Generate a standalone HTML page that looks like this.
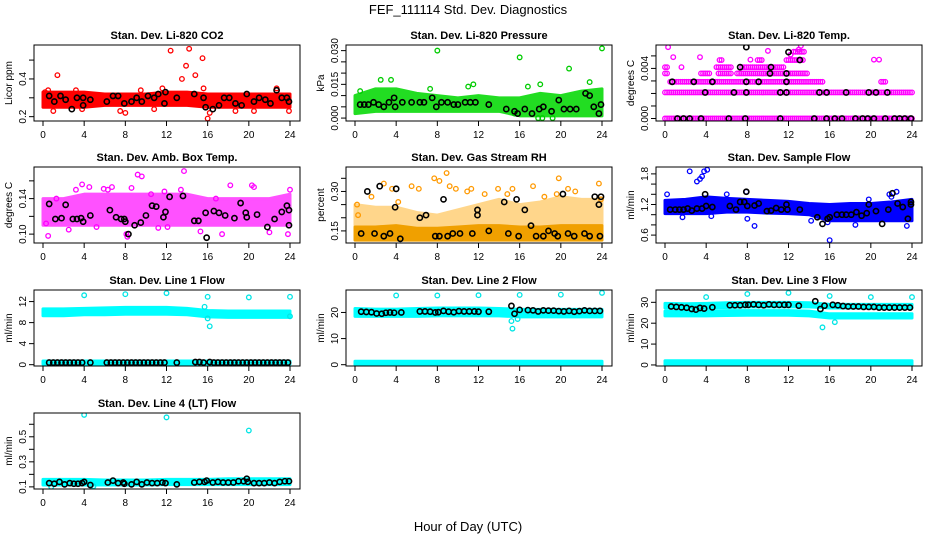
<!DOCTYPE html>
<html><head><meta charset="utf-8">
<style>
html,body{margin:0;padding:0;background:#fff;}
svg{display:block;font-family:"Liberation Sans",Arial,sans-serif;}
</style></head>
<body>
<svg id="chart" width="936" height="540" viewBox="0 0 936 540">
<rect x="0" y="0" width="936" height="540" fill="#fff"/>
<text x="468" y="14" text-anchor="middle" font-size="13">FEF_111114  Std. Dev. Diagnostics</text>
<text x="468" y="531" text-anchor="middle" font-size="13">Hour of Day (UTC)</text>
</svg>
<script>
// ---------- data ----------
const bandHours = [0,2,4,6,8,10,12,14,16,18,20,22,24];

const co2Lo = [0.25,0.25,0.25,0.26,0.26,0.26,0.26,0.26,0.25,0.25,0.25,0.25,0.25];
const co2Hi = [0.33,0.33,0.33,0.32,0.32,0.32,0.33,0.33,0.32,0.32,0.32,0.32,0.32];
const co2PtX = [0.2,0.5,1.0,1.4,3.2,3.8,7.5,8,9.5,10.8,11.6,12.4,13.5,13.9,14.2,14.8,15.5,15.6,16,16.2,18.7,20.5,22.7,23.9];
const co2PtY = [0.33,0.34,0.23,0.42,0.34,0.24,0.23,0.22,0.34,0.24,0.35,0.55,0.40,0.47,0.56,0.42,0.51,0.35,0.19,0.22,0.23,0.23,0.35,0.23];
const co2BkX = [0.6,1.1,1.7,2.2,2.8,3.3,3.9,3.9,4.6,6.2,6.8,7.3,7.9,8.6,9.1,9.6,10.2,10.8,11.2,11.9,11.8,13.0,14.7,15.6,15.8,16.5,17.1,17.6,18.1,18.7,19.3,19.8,20.5,21.0,21.6,22.1,22.7,23.2,23.7,23.9];
const co2BkY = [0.31,0.28,0.31,0.29,0.24,0.30,0.30,0.26,0.29,0.28,0.31,0.31,0.27,0.28,0.30,0.28,0.31,0.30,0.32,0.33,0.27,0.30,0.32,0.30,0.25,0.24,0.26,0.30,0.30,0.27,0.26,0.32,0.28,0.30,0.29,0.27,0.34,0.30,0.30,0.28];

const prLo = [0.002,0.003,0.003,0.003,0.003,0.003,0.003,0.003,0.001,0.001,0.001,0.001,0.001];
const prHi = [0.010,0.013,0.013,0.011,0.010,0.009,0.010,0.009,0.009,0.011,0.010,0.012,0.013];
const prPtX = [2.5,3.5,8,11,11.5,15.5,16,16.8,17.8,18,18.2,19.2,20.8,24,0.5,7.3,22.8];
const prPtY = [0.017,0.017,0.030,0.014,0.015,0.002,0.027,0.014,0.0,0.015,0.0,0.0,0.022,0.031,0.012,0.013,0.016];
const prBkX = [0.5,0.9,1.3,1.8,2.3,2.8,3.3,3.8,3.9,4.6,5.5,6.3,6.7,7.5,7.9,8.4,9.0,9.6,10.0,10.7,11.2,11.7,13.0,14.7,15.5,15.8,16.5,17.2,17.9,18.3,19.1,19.8,20.3,20.9,21.5,22.4,22.8,23.2,23.7,23.9];
const prBkY = [0.006,0.006,0.006,0.007,0.006,0.005,0.007,0.009,0.005,0.007,0.007,0.007,0.007,0.009,0.005,0.007,0.007,0.006,0.006,0.007,0.007,0.007,0.006,0.004,0.003,0.002,0.004,0.002,0.004,0.005,0.003,0.008,0.004,0.004,0.004,0.011,0.010,0.005,0.002,0.006];

const tmpSegStart = [0,0,0.5,21,7,5.2,3.5,0,5,7.5,0,5.3,9,11.8,12.5];
const tmpSegEnd   = [24,24,15.3,21.5,13.8,6.5,4.3,0.2,6.5,11.5,0.2,5.6,9.5,13.5,13.5];
const tmpSegLevel = [0,0.00208,0.00293,0.00293,0.0036,0.0036,0.0036,0.0036,0.0041,0.0041,0.0041,0.00467,0.00467,0.00467,0.00533];
const tmpPtX = [0.3,0.8,3.4,1.6,8.3,10,13.2,20.3,20.8,13.0,12.2];
const tmpPtY = [0.0057,0.0049,0.0049,0.0041,0.0047,0.0054,0.0058,0.0047,0.0047,0.0055,0.0051];
const tmpBkX = [1.2,1.8,2.4,3.5,6.2,7.8,11.2,14.5,15.7,16.5,17.2,18.5,19.2,19.7,20.3,21.4,22.3,22.8,23.3,23.9,3.9,6.7,7.9,11.2,11.8,15,15.7,17.6,19.8,21.6,20.5,0.7,2.8,4.6,7.9,9.1,11.8,10.2,11.8,7.3,10.3,13.1,7.9,12.0];
const tmpBkY = [0,0,0,0,0,0,0,0,0,0,0,0,0,0,0,0,0,0,0,0,0.00208,0.00208,0.00208,0.00208,0.00208,0.00208,0.00208,0.00208,0.00208,0.00208,0.00208,0.00293,0.00293,0.00293,0.00293,0.00293,0.00293,0.0036,0.0036,0.0041,0.0041,0.00467,0.0057,0.0053];

const ambLo = [0.11,0.11,0.11,0.11,0.11,0.11,0.11,0.11,0.11,0.11,0.11,0.11,0.11];
const ambHi = [0.14,0.14,0.145,0.145,0.145,0.145,0.145,0.145,0.14,0.14,0.14,0.14,0.145];
const ambPtX = [0.3,0.5,1.3,3.2,3.8,4.5,5.2,6.3,6.7,8.2,8.1,8.6,9.2,9.6,10.5,11.2,11.8,13.7,13.4,16.8,17.4,20.3,20.5,22.0,23.8,24.0,2.5,5.9,15.3,18.2,12.1];
const ambPtY = [0.112,0.098,0.140,0.150,0.156,0.153,0.108,0.150,0.153,0.097,0.100,0.152,0.167,0.165,0.145,0.107,0.148,0.171,0.150,0.140,0.100,0.155,0.153,0.102,0.100,0.150,0.105,0.151,0.103,0.155,0.108];
const ambBkX = [0.6,1.2,1.8,2.2,2.9,3.3,3.7,3.9,4.6,6.5,7.1,7.6,7.9,8.0,8.3,8.9,9.5,10.0,10.6,11.0,11.7,11.9,12.3,13.6,14.7,15.1,15.8,15.9,16.6,17.1,17.7,18.6,19.2,19.7,19.8,20.8,21.8,22.5,23.2,23.7,23.9,23.9];
const ambBkY = [0.134,0.117,0.118,0.133,0.117,0.117,0.118,0.114,0.121,0.127,0.119,0.117,0.117,0.114,0.100,0.110,0.113,0.121,0.132,0.131,0.119,0.125,0.142,0.143,0.115,0.115,0.124,0.096,0.126,0.124,0.121,0.118,0.135,0.124,0.119,0.122,0.108,0.117,0.125,0.132,0.127,0.110];

const rhLo = [0.115,0.115,0.115,0.115,0.115,0.115,0.115,0.115,0.115,0.115,0.115,0.115,0.115];
const rhHi = [0.165,0.165,0.17,0.16,0.16,0.165,0.17,0.17,0.165,0.165,0.17,0.17,0.17];
const rh2Lo = [0.17,0.17,0.17,0.165,0.165,0.17,0.17,0.17,0.17,0.17,0.17,0.17,0.17];
const rh2Hi = [0.25,0.24,0.24,0.22,0.21,0.23,0.25,0.27,0.25,0.26,0.28,0.27,0.27];
const rhPtX = [0.2,0.3,1.6,2.8,3.6,4.2,5.5,6.2,7.7,8.2,8.9,9.2,9.8,10.9,11.3,12.6,13.9,14.8,15.3,17.3,18.4,19.8,20.7,23.7,23.9,19.6,21.4];
const rhPtY = [0.25,0.21,0.28,0.33,0.31,0.26,0.32,0.31,0.35,0.34,0.37,0.32,0.31,0.30,0.31,0.29,0.31,0.29,0.31,0.32,0.28,0.35,0.31,0.33,0.27,0.29,0.30];
const rhBkX = [0.6,1.2,1.9,2.4,2.8,3.4,3.9,4.0,4.4,6.3,6.9,7.8,8.2,8.6,9.0,9.5,10.2,11.4,11.9,11.9,13.0,14.5,14.9,15.7,15.9,16.5,17.1,17.6,18.3,18.8,19.4,19.7,20.2,20.7,21.3,22.3,22.8,23.3,23.7,23.9,23.8];
const rhBkY = [0.14,0.30,0.14,0.32,0.13,0.14,0.24,0.31,0.12,0.20,0.21,0.13,0.13,0.27,0.13,0.14,0.14,0.14,0.23,0.21,0.15,0.26,0.14,0.27,0.13,0.23,0.17,0.13,0.13,0.15,0.14,0.13,0.29,0.14,0.13,0.14,0.13,0.28,0.25,0.28,0.13];

const sfLo = [1.02,1.02,1.02,1.05,1.05,1.03,1.02,1.0,0.88,0.88,0.88,0.88,0.88];
const sfHi = [1.28,1.3,1.35,1.32,1.30,1.28,1.26,1.22,1.2,1.22,1.22,1.25,1.3];
const sfPtX = [0.2,1.7,2.4,3.1,3.4,3.6,3.8,4.1,4.5,6,7.9,8,8.7,14.2,15.8,16,18.5,19.8,22.5,23.5,22,21.8];
const sfPtY = [1.4,0.95,1.85,1.65,1.7,1.75,1.85,1.88,0.97,1.4,1.45,0.92,0.78,0.88,0.85,0.5,0.8,1.3,1.45,0.78,1.35,1.4];
const sfBkX = [0.5,1.0,1.4,1.8,2.2,2.6,3.1,3.6,3.9,4.0,4.6,6.3,6.9,7.3,7.7,7.9,8.0,8.7,9.1,9.9,10.3,10.8,11.3,11.8,11.9,13.1,14.8,15.3,15.8,16.0,16.7,17.2,17.6,18.1,18.6,19.1,19.6,19.8,20.5,21.1,21.7,22.1,22.6,23.1,23.6,23.9,23.9];
const sfBkY = [1.10,1.10,1.10,1.10,1.12,1.08,1.12,1.12,1.40,1.17,1.15,1.17,1.10,1.25,1.25,1.45,1.17,1.18,1.22,1.07,1.08,1.13,1.10,1.20,1.10,1.10,0.95,0.82,0.92,0.95,1.00,1.00,1.00,1.00,1.05,0.98,1.03,1.20,1.07,0.82,1.10,1.42,1.22,1.15,0.92,1.25,1.20];

const l1Lo = [9.3,9.3,9.5,9.5,9.6,9.6,9.6,9.5,9.1,9.0,9.0,9.0,9.0];
const l1Hi = [10.6,10.6,10.7,10.8,10.9,10.9,10.9,10.7,10.3,10.2,10.2,10.2,10.2];
const l1Lo2 = [0.1,0.1,0.1,0.1,0.1,0.1,0.1,0.1,0.1,0.1,0.1,0.1,0.1];
const l1Hi2 = [0.7,0.7,0.7,0.7,0.7,0.7,0.7,0.7,0.7,0.7,0.7,0.7,0.7];
const l1PtX = [4,8,12,16,20,24,15.7,16,16.2,24];
const l1PtY = [13.2,13.4,13.6,12.9,12.8,12.9,11.0,8.8,7.3,9.2];
const l1BkX = [0.6,1.0,1.4,1.8,2.2,2.6,3.0,3.4,3.8,4.6,6.2,6.6,7.0,7.4,7.8,8.2,8.6,9.0,9.4,9.8,10.2,10.6,11.0,11.4,11.8,13.0,14.8,15.2,15.6,16.2,16.6,17.0,17.4,17.8,18.2,18.6,19.0,19.4,19.8,20.2,20.6,21.0,21.4,21.8,22.2,22.6,23.0,23.4,23.8];
const l1BkY = [0.4,0.4,0.4,0.4,0.4,0.4,0.4,0.4,0.4,0.4,0.4,0.4,0.4,0.4,0.4,0.4,0.4,0.4,0.4,0.4,0.4,0.4,0.4,0.4,0.4,0.4,0.5,0.5,0.4,0.5,0.4,0.4,0.4,0.4,0.4,0.4,0.4,0.4,0.4,0.4,0.4,0.4,0.4,0.4,0.4,0.4,0.4,0.4,0.4];

const l2Lo = [18.5,18.5,18.5,18.5,18.7,18.7,18.7,18.7,18.3,18.3,18.3,18.3,18.3];
const l2Hi = [21.5,21.3,21.3,21.5,21.7,21.7,21.7,21.5,21.2,21.2,21.2,21.2,21.2];
const l2Lo2 = [0,0,0,0,0,0,0,0,0,0,0,0,0];
const l2Hi2 = [1.3,1.3,1.3,1.3,1.3,1.3,1.3,1.3,1.3,1.3,1.3,1.3,1.3];
const l2PtX = [4,8,12,16,20,24,15.2,15.3,15.8];
const l2PtY = [26.5,26.5,26.6,26.7,26.8,27.5,16.7,13.8,17.5];
const l2BkX = [0.6,1.1,1.6,2.1,2.6,3.0,3.4,3.8,4.5,6.3,6.8,7.3,7.8,8.1,8.6,9.1,9.6,10.1,10.6,11.1,11.6,12.0,13.0,15.2,15.5,16.0,16.8,17.3,17.8,18.3,18.8,19.3,19.8,20.3,20.8,21.3,21.8,22.3,22.8,23.3,23.8];
const l2BkY = [20.3,20.2,20.1,19.6,19.5,19.9,20.0,19.9,20.0,20.4,20.4,20.3,20.0,20.1,20.6,20.3,20.1,20.5,20.4,20.4,20.4,20.3,20.3,22.5,19.5,21.0,20.9,20.8,20.4,20.8,20.7,20.7,20.5,20.4,20.6,20.3,20.5,20.8,20.6,20.6,20.6];

const l3Lo = [27.3,27.3,27.3,27.5,27.8,27.8,27.8,27.8,27.3,27.3,27.3,27.3,27.3];
const l3Hi = [29.5,29.3,29.5,29.8,30.0,30.0,30.0,29.8,29.0,29.0,29.0,29.0,29.0];
const l3bLo = [23.5,23.5,23.5,23.7,23.8,23.8,23.8,23.5,22.5,22.5,22.5,22.5,22.5];
const l3bHi = [25.8,25.6,25.8,26.0,26.0,26.0,26.0,25.8,24.5,24.5,24.5,24.5,24.5];
const l3Lo2 = [0,0,0,0,0,0,0,0,0,0,0,0,0];
const l3Hi2 = [2,2,2,2,2,2,2,2,2,2,2,2,2];
const l3PtX = [4,8,12,16,20,24,15.3,16.5];
const l3PtY = [32.5,34.0,34.5,33.0,32.5,32.5,18.0,20.5];
const l3BkX = [0.6,1.1,1.6,2.1,2.6,3.0,3.4,3.8,4.6,6.3,6.8,7.3,7.8,8.1,8.6,9.1,9.6,10.1,10.6,11.1,11.6,12.0,13.0,14.6,15.1,15.5,16.3,16.8,17.3,17.8,18.3,18.8,19.3,19.8,20.3,20.8,21.3,21.8,22.3,22.8,23.3,23.8];
const l3BkY = [28.0,27.8,27.6,27.4,26.8,26.5,27.3,27.0,27.6,28.6,28.6,28.6,28.8,28.8,29.0,28.8,28.6,29.0,28.8,28.8,28.8,28.8,28.4,30.5,26.8,28.4,28.8,28.6,28.2,28.0,28.0,28.0,27.8,27.8,27.8,27.5,27.5,27.5,27.5,27.5,27.5,27.5];

const l4Lo = [0.115,0.115,0.115,0.115,0.115,0.115,0.118,0.118,0.118,0.118,0.118,0.118,0.118];
const l4Hi = [0.16,0.16,0.16,0.155,0.155,0.155,0.16,0.16,0.16,0.165,0.165,0.165,0.165];
const l4PtX = [4,12,20,0.8,4.9];
const l4PtY = [0.675,0.655,0.55,0.10,0.105];
const l4BkX = [0.6,1.1,1.6,2.1,2.6,3.0,3.4,3.8,4.0,4.6,6.3,6.8,7.3,7.8,7.9,8.6,9.1,9.6,10.1,10.6,11.1,11.6,11.9,13.0,14.7,15.2,15.7,15.9,16.5,17.0,17.5,18.0,18.5,19.0,19.5,19.8,19.9,20.5,21.0,21.5,22.0,22.5,23.0,23.5,23.9];
const l4BkY = [0.13,0.125,0.14,0.12,0.13,0.125,0.125,0.13,0.14,0.115,0.135,0.15,0.13,0.135,0.125,0.12,0.14,0.12,0.135,0.13,0.13,0.135,0.13,0.12,0.135,0.14,0.14,0.15,0.135,0.14,0.135,0.135,0.135,0.145,0.145,0.165,0.14,0.13,0.13,0.13,0.135,0.13,0.14,0.145,0.145];

// ---------- rendering ----------
const NS = 'http://www.w3.org/2000/svg';
const svg = document.getElementById('chart');
const xTicks = [0,4,8,12,16,20,24];

function el(tag, attrs, parent){
  const e = document.createElementNS(NS, tag);
  for (const k in attrs) e.setAttribute(k, attrs[k]);
  (parent || svg).appendChild(e);
  return e;
}

function makePanel(opt){
  const g = el('g', {});
  
  
  const L = opt.left, T = opt.top, R = L + 266, B = T + 76;
  const x0 = L + 9, x1 = L + 256;
  const sx = v => x0 + (v / 24) * (x1 - x0);
  const sy = v => B - (v - opt.ymin) / (opt.ymax - opt.ymin) * (B - T);
  const t = el('text', {x: (L + R) / 2, y: T - 6, 'text-anchor': 'middle', 'font-size': 11, 'font-weight': 'bold'}, g);
  t.textContent = opt.title;
  
  
  const clip = el('clipPath', {id: 'clip-' + opt.name}, g);
  el('rect', {x: L, y: T, width: 266, height: 76}, clip);
  const plot = el('g', {'clip-path': 'url(#clip-' + opt.name + ')'}, g);
  
  
  return {g, plot, sx, sy, L, T, R, B, opt};
}

function finishPanel(p, yTicks, yLabels){
  const {g, sx, sy, L, T, B, opt} = p;
  const box = el('rect', {x: L, y: T, width: 266, height: B - T, fill: 'none', stroke: '#000', 'stroke-width': 1}, g);
  
  
  const xa = el('g', {}, g);
  
  
  xTicks.forEach(v => {
    el('line', {x1: sx(v), x2: sx(v), y1: B, y2: B + 5, stroke: '#000'}, xa);
    const tx = el('text', {x: sx(v), y: B + 17, 'text-anchor': 'middle', 'font-size': 10}, xa);
    tx.textContent = v;
  });
  const ya = el('g', {}, g);
  
  
  yTicks.forEach((v, i) => {
    el('line', {x1: L - 5, x2: L, y1: sy(v), y2: sy(v), stroke: '#000'}, ya);
    if (yLabels[i]) {
      const tx = el('text', {x: L - 8, y: sy(v), 'text-anchor': 'middle', 'font-size': 10,
        transform: 'rotate(-90 ' + (L - 8) + ' ' + sy(v) + ')'}, ya);
      tx.textContent = yLabels[i];
    }
  });
  const yt = el('text', {x: L - 22, y: (T + B) / 2, 'text-anchor': 'middle', 'font-size': 10,
    transform: 'rotate(-90 ' + (L - 22) + ' ' + ((T + B) / 2) + ')'}, g);
  yt.textContent = opt.ylab;
  
  
}

function band(p, lo, hi, color, op){
  const pts = [];
  bandHours.forEach((h, i) => pts.push(p.sx(h) + ',' + p.sy(hi[i])));
  for (let i = bandHours.length - 1; i >= 0; i--) pts.push(p.sx(bandHours[i]) + ',' + p.sy(lo[i]));
  const poly = el('polygon', {points: pts.join(' '), fill: color, stroke: color, 'stroke-width': 3, 'stroke-linejoin': 'round', opacity: op || 1}, p.plot);
  
  
}

function pts(p, xs, ys, color, black){
  const n = Math.min(xs.length, ys.length);
  const grp = el('g', {}, p.plot);
  
  
  for (let i = 0; i < n; i++) {
    const c = el('circle', {cx: p.sx(xs[i]), cy: p.sy(ys[i]), r: black ? 2.6 : 2.3, fill: 'none', stroke: color, 'stroke-width': black ? 1.6 : 1.3}, grp);
    
    
  }
}

const colL = [34, 346, 656];
const rowT = [45, 167, 290, 413];

let p = makePanel({name: 'co2', title: 'Stan. Dev. Li-820 CO2', ylab: 'Licor ppm', left: colL[0], top: rowT[0], ymin: 0.177, ymax: 0.58});
band(p, co2Lo, co2Hi, '#ff0000');
pts(p, co2PtX, co2PtY, '#ff0000');
pts(p, co2BkX, co2BkY, '#000', true);
finishPanel(p, [0.2,0.3,0.4,0.5], ['0.2','','0.4','']);

p = makePanel({name: 'pressure', title: 'Stan. Dev. Li-820 Pressure', ylab: 'kPa', left: colL[1], top: rowT[0], ymin: -0.0013, ymax: 0.0325});
band(p, prLo, prHi, '#22dd22');
pts(p, prPtX, prPtY, '#00cc00');
pts(p, prBkX, prBkY, '#000', true);
finishPanel(p, [0,0.005,0.01,0.015,0.02,0.025,0.03], ['0.000','','','0.015','','','0.030']);

p = makePanel({name: 'temp', title: 'Stan. Dev. Li-820 Temp.', ylab: 'degrees C', left: colL[2], top: rowT[0], ymin: -0.0002, ymax: 0.00587});
{
  const grp = el('g', {}, p.plot);
  
  
  for (let s = 0; s < tmpSegStart.length; s++) {
    for (let h = tmpSegStart[s]; h <= tmpSegEnd[s] + 1e-9; h += 0.2) {
      const c = el('circle', {cx: p.sx(h), cy: p.sy(tmpSegLevel[s]), r: 2.3, fill: 'none', stroke: '#ff00ff', 'stroke-width': 1.3}, grp);
      
      
    }
  }
}
pts(p, tmpPtX, tmpPtY, '#ff00ff');
pts(p, tmpBkX, tmpBkY, '#000', true);
finishPanel(p, [0,0.001,0.002,0.003,0.004,0.005], ['0.000','','','','0.004','']);

p = makePanel({name: 'amb-temp', title: 'Stan. Dev. Amb. Box Temp.', ylab: 'degrees C', left: colL[0], top: rowT[1], ymin: 0.09, ymax: 0.1756});
band(p, ambLo, ambHi, '#ff33ff', 0.85);
pts(p, ambPtX, ambPtY, '#ff00ff');
pts(p, ambBkX, ambBkY, '#000', true);
finishPanel(p, [0.10,0.12,0.14,0.16], ['0.10','','0.14','']);

p = makePanel({name: 'rh', title: 'Stan. Dev. Gas Stream RH', ylab: 'percent', left: colL[1], top: rowT[1], ymin: 0.104, ymax: 0.393});
band(p, rh2Lo, rh2Hi, '#ffa500', 0.45);
band(p, rhLo, rhHi, '#f0a000');
pts(p, rhPtX, rhPtY, '#ff9900');
pts(p, rhBkX, rhBkY, '#000', true);
finishPanel(p, [0.15,0.20,0.25,0.30,0.35], ['0.15','','','0.30','']);

p = makePanel({name: 'sample-flow', title: 'Stan. Dev. Sample Flow', ylab: 'ml/min', left: colL[2], top: rowT[1], ymin: 0.445, ymax: 1.935});
band(p, sfLo, sfHi, '#0000ff');
pts(p, sfPtX, sfPtY, '#0000ff');
pts(p, sfBkX, sfBkY, '#000', true);
finishPanel(p, [0.6,0.8,1.0,1.2,1.4,1.6,1.8], ['0.6','','','1.2','','','1.8']);

p = makePanel({name: 'line1-flow', title: 'Stan. Dev. Line 1 Flow', ylab: 'ml/min', left: colL[0], top: rowT[2], ymin: -0.25, ymax: 14.2});
band(p, l1Lo, l1Hi, '#00ffff');
band(p, l1Lo2, l1Hi2, '#00ffff');
pts(p, l1PtX, l1PtY, '#00e5e5');
pts(p, l1BkX, l1BkY, '#000', true);
finishPanel(p, [0,4,8,12], ['0','4','8','12']);

p = makePanel({name: 'line2-flow', title: 'Stan. Dev. Line 2 Flow', ylab: 'ml/min', left: colL[1], top: rowT[2], ymin: -0.5, ymax: 28.6});
band(p, l2Lo, l2Hi, '#00ffff');
band(p, l2Lo2, l2Hi2, '#00ffff');
pts(p, l2PtX, l2PtY, '#00e5e5');
pts(p, l2BkX, l2BkY, '#000', true);
finishPanel(p, [0,10,20], ['0','10','20']);

p = makePanel({name: 'line3-flow', title: 'Stan. Dev. Line 3 Flow', ylab: 'ml/min', left: colL[2], top: rowT[2], ymin: -0.5, ymax: 35.9});
band(p, l3Lo, l3Hi, '#00ffff');
band(p, l3bLo, l3bHi, '#00ffff');
band(p, l3Lo2, l3Hi2, '#00ffff');
pts(p, l3PtX, l3PtY, '#00e5e5');
pts(p, l3BkX, l3BkY, '#000', true);
finishPanel(p, [0,10,20,30], ['0','10','20','30']);

p = makePanel({name: 'line4-flow', title: 'Stan. Dev. Line 4 (LT) Flow', ylab: 'ml/min', left: colL[0], top: rowT[3], ymin: 0.083, ymax: 0.69});
band(p, l4Lo, l4Hi, '#00ffff');
pts(p, l4PtX, l4PtY, '#00e5e5');
pts(p, l4BkX, l4BkY, '#000', true);
finishPanel(p, [0.1,0.2,0.3,0.4,0.5,0.6], ['0.1','','0.3','','0.5','']);
</script>
</body></html>
